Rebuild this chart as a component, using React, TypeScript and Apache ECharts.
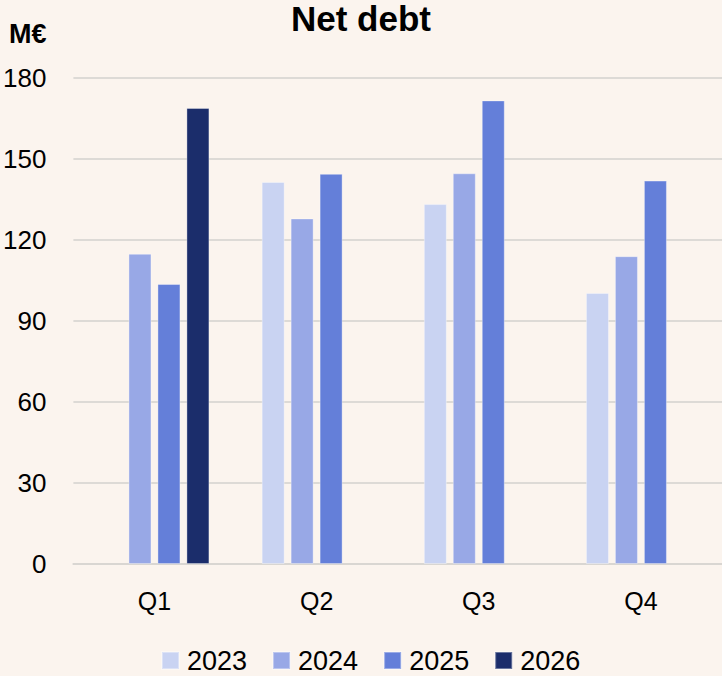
import React, { useEffect, useRef } from "react";
import * as echarts from "echarts";

const categories = ["Q1", "Q2", "Q3", "Q4"];
const seriesNames = ["2023", "2024", "2025", "2026"];
const values2023: (number | null)[] = [null, 141.5, 133.3, 100.4];
const values2024: (number | null)[] = [114.9, 128, 144.7, 114];
const values2025: (number | null)[] = [103.7, 144.5, 171.7, 142];
const values2026: (number | null)[] = [168.9, null, null, null];
const colors = ["#C9D3F2", "#98A8E6", "#647FD9", "#1B2D6B"];
const yTicks = { min: 0, max: 180, interval: 30 };

const FONT = "'Liberation Sans', Arial, sans-serif";

export default function App() {
  const ref = useRef<HTMLDivElement>(null);
  useEffect(() => {
    document.body.style.margin = "0";
    document.body.style.overflow = "hidden";
    if (!ref.current) return;
    const chart = echarts.init(ref.current, undefined, { renderer: "svg" });
    const all = [values2023, values2024, values2025, values2026];
    chart.setOption({
      animation: false,
      backgroundColor: "#FBF4EE",
      textStyle: { fontFamily: FONT },
      title: {
        text: "Net debt",
        left: "center",
        top: 1,
        padding: 0,
        textStyle: { fontFamily: FONT, fontWeight: "bold", fontSize: 35, color: "#000" },
      },
      graphic: [
        {
          type: "text",
          left: 9,
          top: 20,
          style: { text: "M€", fontFamily: FONT, fontWeight: "bold", fontSize: 27, fill: "#000" },
        },
      ],
      legend: {
        top: 647,
        left: 161,
        padding: 0,
        itemWidth: 17,
        itemHeight: 17,
        itemGap: 25,
        icon: "rect",
        textStyle: { fontFamily: FONT, fontSize: 27, color: "#000", padding: [0, 0, 0, 3] },
        data: seriesNames,
      },
      grid: { left: 72, right: 0, top: 78, bottom: 112 },
      xAxis: {
        type: "category",
        data: categories,
        axisLine: { lineStyle: { color: "#D9D6D2", width: 2 } },
        axisTick: { show: false },
        axisLabel: { fontFamily: FONT, fontSize: 25, color: "#000", margin: 24 },
      },
      yAxis: {
        type: "value",
        min: yTicks.min,
        max: yTicks.max,
        interval: yTicks.interval,
        axisLine: { show: false },
        axisTick: { show: false },
        axisLabel: { fontFamily: FONT, fontSize: 26, color: "#000", margin: 27 },
        splitLine: { lineStyle: { color: "#DDDAD6", width: 2 } },
      },
      series: seriesNames.map((name, i) => ({
        name,
        type: "bar",
        data: all[i],
        barWidth: 23,
        barGap: "26%",
        itemStyle: {
          color: colors[i],
          borderColor: "rgba(255,255,255,0.35)",
          borderWidth: 1,
        },
      })),
    });
    return () => chart.dispose();
  }, []);
  return <div ref={ref} style={{ width: 722, height: 676 }} />;
}
